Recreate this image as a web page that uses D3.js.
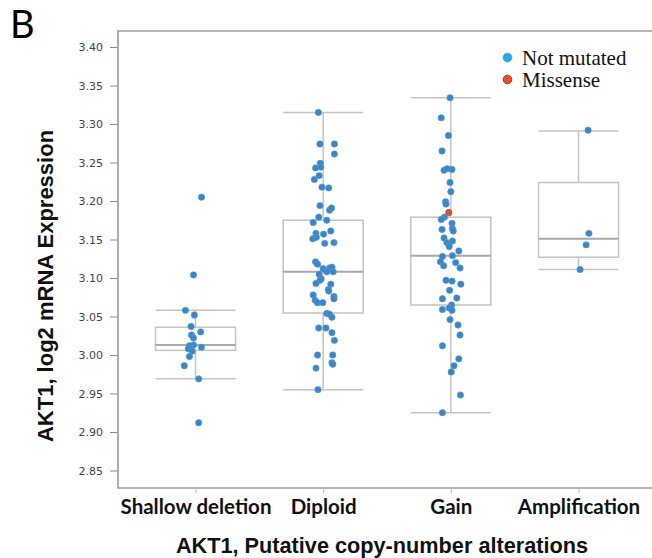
<!DOCTYPE html>
<html><head><meta charset="utf-8">
<script src="https://cdn.jsdelivr.net/npm/d3@7"></script>
<style>body{margin:0;background:#fff}svg{display:block}</style>
</head><body>
<svg id="c" width="652" height="558"></svg>
<script>
// ---- data ----
const categories = ["Shallow deletion", "Diploid", "Gain", "Amplification"];
const yTicks = [2.85, 2.90, 2.95, 3.00, 3.05, 3.10, 3.15, 3.20, 3.25, 3.30, 3.35, 3.40];

const shallowValues = [3.205,3.104,3.058,3.052,3.037,3.026,3.022,3.030,3.013,3.012,3.008,3.005,3.010,2.998,2.986,2.969,2.912];
const shallowJitter = [.15,-.05,-.25,-.03,-.11,-.10,-.05,.13,-.05,-.15,-.18,-.08,.15,-.15,-.28,.08,.08];

const diploidValues = [3.315,3.274,3.274,3.261,3.249,3.243,3.244,3.233,3.228,3.218,3.217,3.194,3.188,3.191,3.179,3.175,3.172,3.158,3.157,3.161,3.151,3.153,3.145,3.146,3.121,3.118,3.112,3.113,3.114,3.108,3.108,3.105,3.099,3.097,3.093,3.092,3.085,3.083,3.078,3.076,3.073,3.071,3.068,3.068,3.054,3.053,3.049,3.035,3.035,3.029,3.019,3.000,3.000,2.983,2.990,2.988,2.955];
const diploidJitter = [-.12,-.08,.28,.28,-.07,-.19,-.06,-.10,-.22,-.03,.14,-.08,.16,.21,-.11,.09,-.25,-.18,.01,.19,-.26,-.17,.04,.27,-.19,-.14,0,.16,.22,.25,.09,-.10,-.05,-.08,-.18,.19,.13,.14,-.25,.27,.27,-.20,-.14,-.01,.09,.16,.22,-.11,.07,.22,.28,-.14,.24,-.18,.22,.24,-.13];

const gainValues = [3.334,3.308,3.285,3.265,3.240,3.242,3.241,3.224,3.212,3.199,3.196,3.179,3.176,3.171,3.164,3.163,3.161,3.152,3.148,3.146,3.141,3.135,3.128,3.129,3.121,3.120,3.116,3.113,3.097,3.096,3.092,3.084,3.074,3.073,3.065,3.059,3.061,3.058,3.046,3.039,3.026,3.012,2.995,2.986,2.978,2.948,2.925];
const gainJitter = [-.02,-.24,-.06,-.22,-.17,-.09,.03,-.02,0,-.13,-.12,-.16,-.24,.03,.04,-.22,.06,-.17,.04,-.10,-.04,.20,-.21,.04,-.26,.12,-.18,.23,-.12,.03,.25,-.03,.15,-.21,.02,-.21,-.04,.03,-.02,.18,.23,-.21,.20,.08,.01,.24,-.21];

const amplificationValues = [3.292,3.158,3.143,3.111];
const amplificationJitter = [.24,.26,.19,.04];

// missense sample (Gain group)
const missenseCategory = ["Gain"];
const missenseValues = [3.185];
const missenseJitter = [-.05];

// box statistics: [low whisker, q1, median, q3, high whisker]
const boxLow    = [2.969, 2.955, 2.925, 3.111];
const boxQ1     = [3.006, 3.0545, 3.065, 3.127];
const boxMedian = [3.013, 3.108, 3.129, 3.151];
const boxQ3     = [3.036, 3.175, 3.179, 3.224];
const boxHigh   = [3.058, 3.315, 3.334, 3.291];

const legendLabels = ["Not mutated", "Missense"];

// ---- layout ----
const svg = d3.select("#c");
const frame = {left:118, top:31, right:660, bottom:488};
const BLUE = "#3a86c6", RED = "#c9553a";

const y = d3.scaleLinear().domain([2.85, 3.40]).range([470.5, 47]);
const x = d3.scalePoint().domain(categories).range([195.5, 578.5]);
const half = 40;
const jit = d3.scaleLinear().domain([-1, 1]).range([-half, half]);

// frame
svg.append("path")
  .attr("d", `M${frame.right},${frame.top}H${frame.left}V${frame.bottom}H${frame.right}`)
  .attr("fill","none").attr("stroke","#9a9a9a").attr("stroke-width",1.6);

// y axis
const yAxis = d3.axisLeft(y).tickValues(yTicks).tickFormat(d3.format(".2f")).tickSize(7).tickPadding(7);
const gy = svg.append("g").attr("transform",`translate(${frame.left - 1},0)`).call(yAxis);
gy.select(".domain").remove();
gy.selectAll(".tick line").attr("stroke","#8a8a8a").attr("stroke-width",1);
gy.selectAll(".tick text").attr("font-family","DejaVu Sans, sans-serif").attr("font-size",11).attr("fill","#444");

// x axis
const xAxis = d3.axisBottom(x).tickSize(5).tickPadding(6.3);
const gx = svg.append("g").attr("transform",`translate(0,${frame.bottom})`).call(xAxis);
gx.select(".domain").remove();
gx.selectAll(".tick line").attr("stroke","#bbbbbb").attr("stroke-width",1);
gx.selectAll(".tick text").attr("font-family","Lato, sans-serif").attr("font-weight","bold")
  .attr("font-size",20.5).attr("fill","#111").attr("dy","0.72em");

// boxes
const boxes = categories.map((c,i)=>({c, lo:boxLow[i], q1:boxQ1[i], med:boxMedian[i], q3:boxQ3[i], hi:boxHigh[i]}));
const bg = svg.append("g");
boxes.forEach(b=>{
  const cx = x(b.c);
  const g = bg.append("g").attr("stroke","#c4c4c4").attr("stroke-width",1.5).attr("fill","none");
  g.append("line").attr("x1",cx).attr("x2",cx).attr("y1",y(b.hi)).attr("y2",y(b.q3));
  g.append("line").attr("x1",cx).attr("x2",cx).attr("y1",y(b.q1)).attr("y2",y(b.lo));
  g.append("line").attr("x1",cx-half).attr("x2",cx+half).attr("y1",y(b.hi)).attr("y2",y(b.hi));
  g.append("line").attr("x1",cx-half).attr("x2",cx+half).attr("y1",y(b.lo)).attr("y2",y(b.lo));
  g.append("rect").attr("x",cx-half).attr("width",2*half).attr("y",y(b.q3)).attr("height",y(b.q1)-y(b.q3));
  g.append("line").attr("x1",cx-half).attr("x2",cx+half).attr("y1",y(b.med)).attr("y2",y(b.med))
    .attr("stroke","#a9a9a9").attr("stroke-width",2);
});

// points
const groups = [
  [categories[0], shallowValues, shallowJitter],
  [categories[1], diploidValues, diploidJitter],
  [categories[2], gainValues, gainJitter],
  [categories[3], amplificationValues, amplificationJitter]
];
const pts = [];
groups.forEach(([c, vals, js])=>vals.forEach((v,i)=>pts.push({c, v, j:js[i], m:false})));
missenseValues.forEach((v,i)=>pts.push({c:missenseCategory[i], v, j:missenseJitter[i], m:true}));

svg.append("g").selectAll("circle").data(pts).join("circle")
  .attr("cx", d=>x(d.c)+jit(d.j))
  .attr("cy", d=>y(d.v))
  .attr("r", 3.2)
  .attr("fill", d=>d.m ? RED : BLUE)
  .attr("stroke", d=>d.m ? "#a84a30" : "#5c9bd0")
  .attr("stroke-width", 0.6);

// legend
const lg = svg.append("g");
const legendColors = ["#2ea5e5", "#e2532c"];
const legendStroke = ["#2ea5e5", "#9e3a1c"];
legendLabels.forEach((t,i)=>{
  lg.append("circle").attr("cx",507.5).attr("cy",57.5+i*22).attr("r",4.3)
    .attr("fill",legendColors[i]).attr("stroke",legendStroke[i]).attr("stroke-width",1);
  lg.append("text").attr("x",522).attr("y",65+i*22).text(t)
    .attr("font-family","Liberation Serif, serif").attr("font-size",21).attr("fill","#111");
});

// titles
svg.append("text").attr("x",382).attr("y",552.5).attr("text-anchor","middle")
  .attr("font-family","Liberation Sans, Arial, sans-serif").attr("font-weight","bold").attr("font-size",21.7)
  .attr("fill","#111").text("AKT1, Putative copy-number alterations");
svg.append("text").attr("transform","translate(52.5,286) rotate(-90)").attr("text-anchor","middle")
  .attr("font-family","Liberation Sans, Arial, sans-serif").attr("font-weight","bold").attr("font-size",22)
  .attr("fill","#111").text("AKT1, log2 mRNA Expression");
svg.append("text").attr("x",10).attr("y",38)
  .attr("font-family","Lato, sans-serif").attr("font-size",38).attr("fill","#000").text("B");
</script>
</body></html>
